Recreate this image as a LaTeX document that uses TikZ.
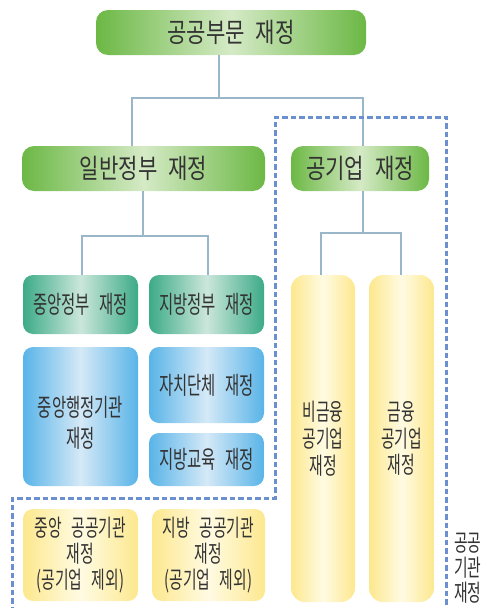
\documentclass[tikz,border=0pt]{standalone}
\usepackage{fontspec}
\newfontfamily\krA[FakeStretch=0.78]{Noto Sans CJK KR}
\newfontfamily\krB[FakeStretch=0.63]{Noto Sans CJK KR}
\newcommand{\ksp}{\hspace{0.4em}}
\definecolor{gEdge}{HTML}{6CB845}
\definecolor{gMid}{HTML}{D5EAC6}
\definecolor{tEdge}{HTML}{3DAB88}
\definecolor{tMid}{HTML}{CBE7DB}
\definecolor{bEdge}{HTML}{59B4E8}
\definecolor{bMid}{HTML}{D5E9F7}
\definecolor{yEdge}{HTML}{FDE88E}
\definecolor{yMid}{HTML}{FFFBE3}
\definecolor{connC}{HTML}{9AB6C9}
\definecolor{dashC}{HTML}{6B8FCF}
\definecolor{txt}{HTML}{333333}
\begin{document}
\begin{tikzpicture}[x=1pt,y=-1pt,
  box/.style={rounded corners=10pt,inner sep=0pt,align=center,text=txt,
    font=\krB\fontsize{24.5}{26}\selectfont},
  bigbox/.style={box,rounded corners=12pt,font=\krA\fontsize{27}{30}\selectfont,
    left color=gEdge,right color=gEdge,middle color=gMid},
  tealbox/.style={box,left color=tEdge,right color=tEdge,middle color=tMid},
  bluebox/.style={box,left color=bEdge,right color=bEdge,middle color=bMid},
  yelbox/.style={box,left color=yEdge,right color=yEdge,middle color=yMid,
    font=\krB\fontsize{23.5}{26}\selectfont},
  tallbox/.style={yelbox,rounded corners=14pt,font=\krB\fontsize{23.5}{26.7}\selectfont},
  conn/.style={draw=connC,line width=1.3pt},
  dashline/.style={draw=dashC,line width=3pt,dash pattern=on 5.5pt off 3pt}]
\useasboundingbox (0,0) rectangle (490,608);
\begin{scope}
\clip (0,0) rectangle (490,608);
% nodes
\node[bigbox,minimum width=270pt,minimum height=45pt] (top) at (231,32.5) {공공부문\ksp 재정};
\node[bigbox,minimum width=243pt,minimum height=45pt] (gen) at (143.5,168.5) {일반정부\ksp 재정};
\node[bigbox,minimum width=138pt,minimum height=45pt] (ent) at (360,168.5) {공기업\ksp 재정};
\node[tealbox,minimum width=115pt,minimum height=59pt] (cg) at (80.5,304.5) {중앙정부\ksp 재정};
\node[tealbox,minimum width=115pt,minimum height=59pt] (lg) at (206.5,304.5) {지방정부\ksp 재정};
\node[bluebox,minimum width=115pt,minimum height=139pt] (cga) at (80.5,416.5) {\parbox{110pt}{\centering\vspace*{13pt}중앙행정기관\\[5pt]재정}};
\node[bluebox,minimum width=115pt,minimum height=76pt] (ag) at (206.5,385) {자치단체\ksp 재정};
\node[bluebox,minimum width=115pt,minimum height=53pt] (le) at (206.5,459.5) {지방교육\ksp 재정};
\node[tallbox,minimum width=64pt,minimum height=327pt] (nf) at (323,438.5) {비금융\\공기업\\재정};
\node[tallbox,minimum width=65pt,minimum height=327pt] (fi) at (401.5,438.5) {금융\\공기업\\재정};
\node[yelbox,minimum width=115pt,minimum height=92pt] (cpi) at (80.5,555) {중앙\ksp 공공기관\\재정\\(공기업\ksp 제외)};
\node[yelbox,minimum width=113pt,minimum height=92pt] (lpi) at (208.5,555) {지방\ksp 공공기관\\재정\\(공기업\ksp 제외)};
\node[anchor=west,inner sep=0pt,align=left,text=txt,font=\krB\fontsize{23.5}{25}\selectfont] (lab) at (454,568) {공공\\기관\\재정};
% connectors
\coordinate (b0) at (219,98);
\coordinate (b1) at (132,98);
\coordinate (b2) at (363,98);
\draw[conn] (b0 |- top.south) -- (b0);
\draw[conn] (b1 |- gen.north) -- (b1) -- (b2) -- (b2 |- ent.north);
\coordinate (c0) at (143,236);
\coordinate (c1) at (82,236);
\coordinate (c2) at (208,236);
\draw[conn] (c0 |- gen.south) -- (c0);
\draw[conn] (c1 |- cg.north) -- (c1) -- (c2) -- (c2 |- lg.north);
\coordinate (d0) at (363,233);
\coordinate (d1) at (321,233);
\coordinate (d2) at (401,233);
\draw[conn] (d0 |- ent.south) -- (d0);
\draw[conn] (d1 |- nf.north) -- (d1) -- (d2) -- (d2 |- fi.north);
% dashed boundary
\coordinate (p1) at (12,612);
\coordinate (p2) at (12,498);
\coordinate (p3) at (275,498);
\coordinate (p4) at (275,117);
\coordinate (p5) at (446,117);
\coordinate (p6) at (446,612);
\draw[dashline] (p1) -- (p2) -- (p3) -- (p4) -- (p5) -- (p6);
\end{scope}
\end{tikzpicture}
\end{document}
